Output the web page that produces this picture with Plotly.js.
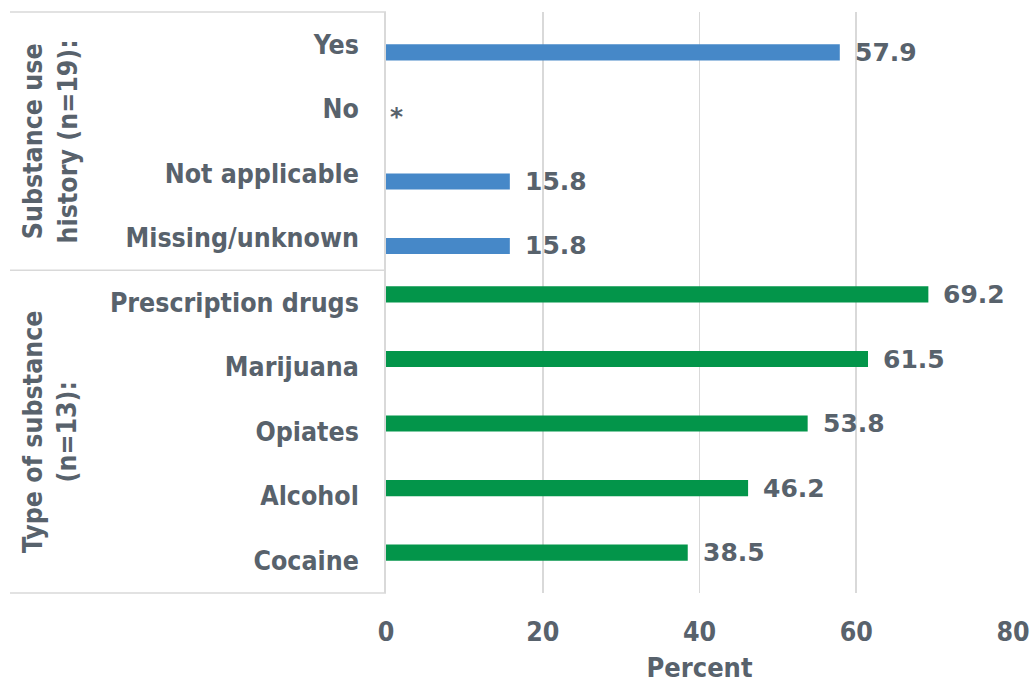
<!DOCTYPE html>
<html>
<head>
<meta charset="utf-8">
<script src="https://cdn.plot.ly/plotly-3.0.1.min.js"></script>
<style>html,body{margin:0;padding:0;background:#fff;}#chart{width:1035px;height:683px;}</style>
</head>
<body>
<div id="chart"></div>
<script>
// ---- data ----
const historyCategories = ['Yes', 'No', 'Not applicable', 'Missing/unknown'];
const historyValues = [57.9, 0, 15.8, 15.8];
const historyLabels = ['57.9', '*', '15.8', '15.8'];
const substanceCategories = ['Prescription drugs', 'Marijuana', 'Opiates', 'Alcohol', 'Cocaine'];
const substanceValues = [69.2, 61.5, 53.8, 46.2, 38.5];
const substanceLabels = ['69.2', '61.5', '53.8', '46.2', '38.5'];
const groupTitles = ['Substance use<br>history (n=19):', 'Type of substance<br>(n=13):'];
const xTicks = [0, 20, 40, 60, 80];
const xTitle = 'Percent';

// ---- style ----
const FONT = '"DejaVu Sans Condensed", "DejaVu Sans", sans-serif';
const LABELFONT = '"DejaVu Sans", sans-serif';
const TXT = '#58626c';
const GRID = '#d9d9d9';
const BLUE = '#4688c8';
const GREEN = '#03954a';
const allCategories = historyCategories.concat(substanceCategories);

const traces = [
  {
    type: 'bar', orientation: 'h',
    y: historyCategories, x: historyValues,
    offset: 0, width: 0.25,
    marker: {color: BLUE, line: {width: 0}},
    hoverinfo: 'skip'
  },
  {
    type: 'bar', orientation: 'h',
    y: substanceCategories, x: substanceValues,
    offset: -0.25, width: 0.25,
    marker: {color: GREEN, line: {width: 0}},
    hoverinfo: 'skip'
  }
];

const annotations = [];
function addLabels(cats, vals, labels, yshift) {
  cats.forEach((c, i) => {
    annotations.push({
      x: vals[i], y: c, xref: 'x', yref: 'y',
      text: labels[i], showarrow: false,
      xanchor: 'left', yanchor: 'middle',
      xshift: vals[i] === 0 ? 2 : 13, yshift: yshift,
      font: {family: LABELFONT, size: 25, color: TXT, weight: 'bold'}
    });
  });
}
addLabels(historyCategories, historyValues, historyLabels, -8);
addLabels(substanceCategories, substanceValues, substanceLabels, 8);

// group titles
const groupCenters = [(historyCategories.length - 1) / 2,
  historyCategories.length + (substanceCategories.length - 1) / 2];
groupTitles.forEach((t, i) => {
  annotations.push({
    x: -0.537, xref: 'paper', y: groupCenters[i], yref: 'y',
    text: t, showarrow: false, textangle: -90,
    xanchor: 'center', yanchor: 'middle',
    font: {family: FONT, size: 26.5, color: TXT, weight: 'bold'}
  });
});

const LEFT = -0.5997;
const shapes = [
  {type: 'line', xref: 'paper', yref: 'paper', x0: LEFT, x1: 0, y0: 1, y1: 1, line: {color: GRID, width: 1.5}},
  {type: 'line', xref: 'paper', yref: 'paper', x0: LEFT, x1: 0, y0: 0, y1: 0, line: {color: GRID, width: 1.5}},
  {type: 'line', xref: 'paper', yref: 'y', x0: LEFT, x1: 0,
    y0: historyCategories.length - 0.5, y1: historyCategories.length - 0.5, line: {color: GRID, width: 1.5}}
];

const layout = {
  width: 1035, height: 683,
  margin: {l: 386, r: 22, t: 12, b: 90},
  paper_bgcolor: '#ffffff', plot_bgcolor: '#ffffff',
  barmode: 'overlay',
  showlegend: false,
  font: {family: FONT, color: TXT},
  xaxis: {
    range: [0, 80], tickvals: xTicks, ticktext: xTicks.map(String),
    showgrid: true, gridcolor: GRID, gridwidth: 1.8,
    zeroline: false, showline: false, ticks: '',
    tickfont: {family: FONT, size: 26.5, color: TXT, weight: 'bold'},
    ticklabelstandoff: 20,
    title: {text: xTitle, font: {family: FONT, size: 27, color: TXT, weight: 'bold'}, standoff: 17},
    automargin: false, fixedrange: true
  },
  yaxis: {
    type: 'category', categoryorder: 'array', categoryarray: allCategories,
    range: [allCategories.length - 0.5, -0.5],
    showgrid: false, zeroline: false,
    showline: true, linecolor: GRID, linewidth: 1.8,
    ticks: '', ticklabelstandoff: 20,
    tickfont: {family: FONT, size: 26.5, color: TXT, weight: 'bold'},
    automargin: false, fixedrange: true
  },
  annotations: annotations,
  shapes: shapes
};

Plotly.newPlot('chart', traces, layout, {displayModeBar: false, staticPlot: true});
</script>
</body>
</html>
